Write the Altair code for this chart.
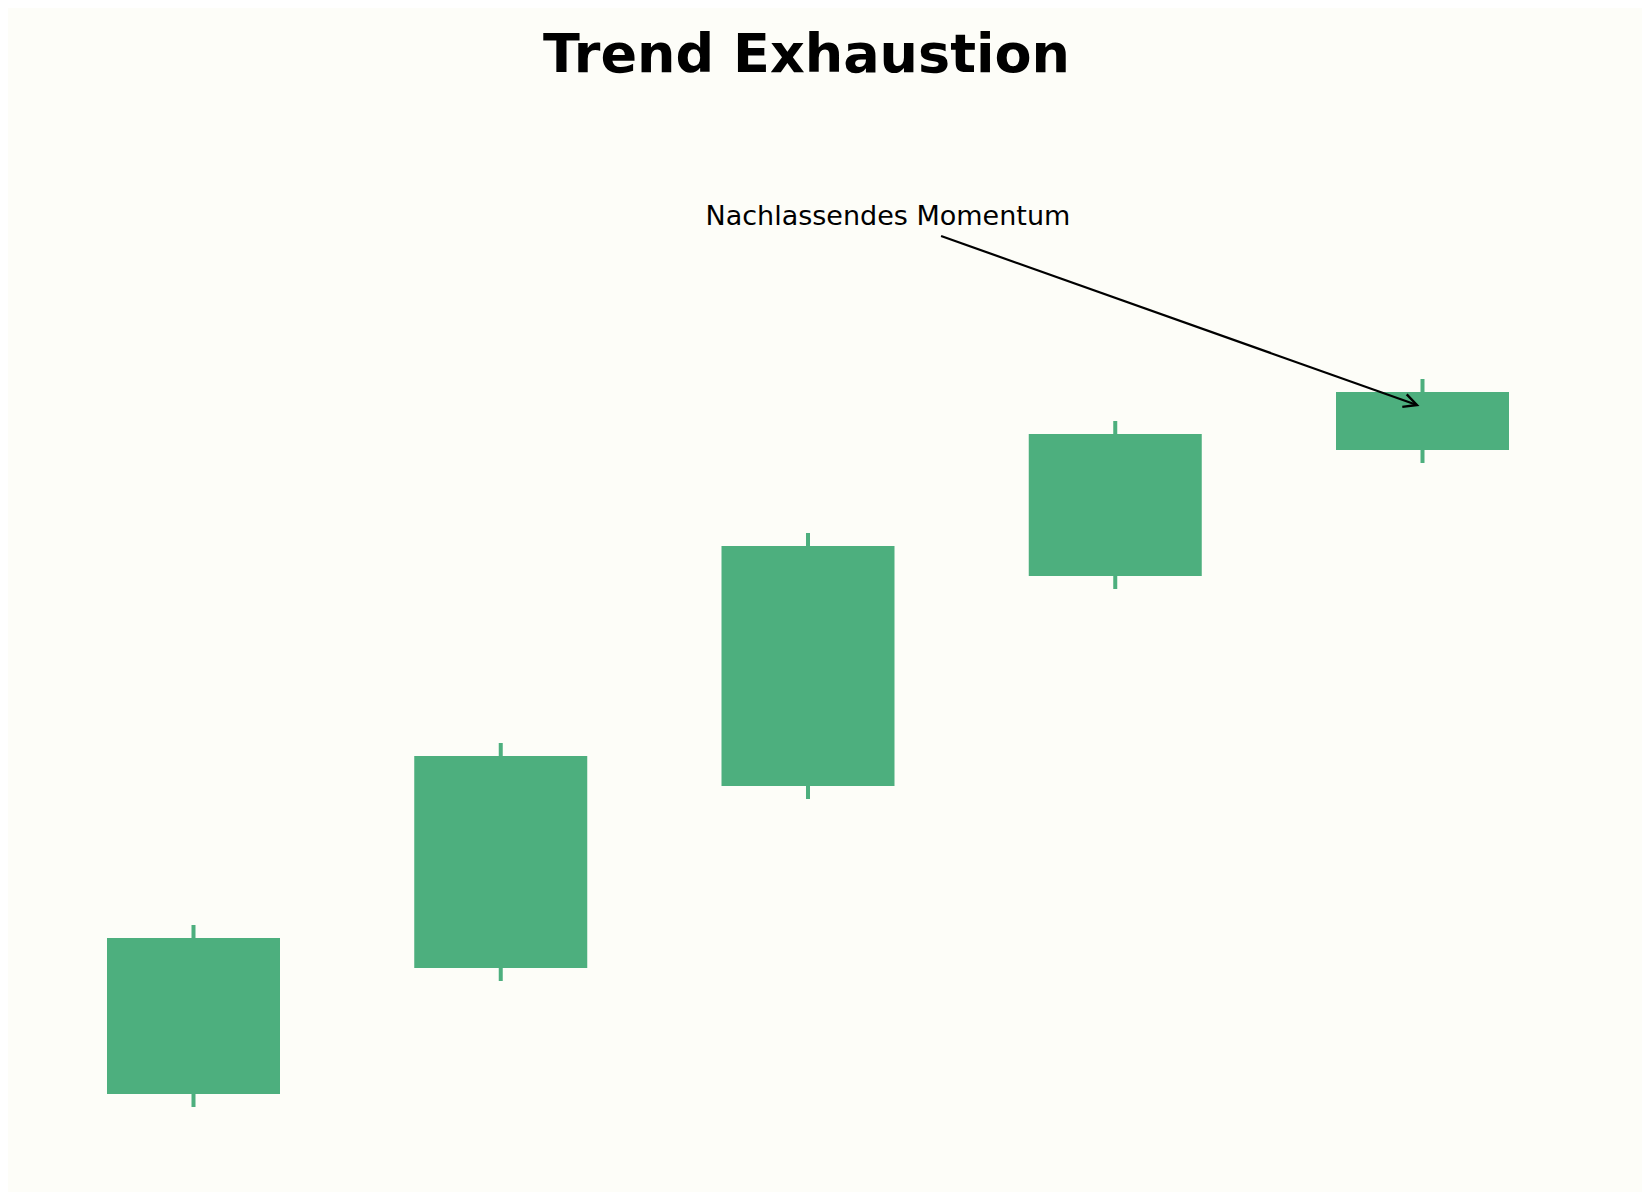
import altair as alt
import pandas as pd

# ---- data ----
idx = [0, 1, 2, 3, 4]
opens = [100.0, 104.85, 111.85, 119.92, 124.77]
closes = [106.0, 113.0, 121.08, 125.38, 127.0]
highs = [106.5, 113.5, 121.58, 125.88, 127.5]
lows = [99.5, 104.35, 111.35, 119.42, 124.27]

title_text = "Trend Exhaustion"
note_text = ["Nachlassendes Momentum"]
note_x = [2.26]
note_y = [133.42]
arrow_x = [2.433]
arrow_y = [133.0]
arrow_x2 = [3.982]
arrow_y2 = [126.5]

GREEN = "#4daf7e"
BG = "#fdfdf8"

df = pd.DataFrame({"i": idx, "open": opens, "close": closes, "high": highs, "low": lows})
note_df = pd.DataFrame({"x": note_x, "y": note_y, "t": note_text})
arrow_df = pd.DataFrame({"x": arrow_x, "y": arrow_y, "x2": arrow_x2, "y2": arrow_y2})

xs = alt.Scale(domain=[-0.60374, 4.7144], nice=False, zero=False, padding=0)
ys = alt.Scale(domain=[96.231, 137.923], nice=False, zero=False, padding=0)

wicks = alt.Chart(df).mark_rule(color=GREEN, strokeWidth=4, strokeCap="butt").encode(
    x=alt.X("i:Q", scale=xs, axis=None),
    y=alt.Y("low:Q", scale=ys, axis=None),
    y2="high:Q",
)
bodies = alt.Chart(df).mark_bar(color=GREEN, size=173, opacity=1).encode(
    x=alt.X("i:Q", scale=xs, axis=None),
    y=alt.Y("open:Q", scale=ys, axis=None),
    y2="close:Q",
)
note = alt.Chart(note_df).mark_text(
    font="DejaVu Sans", fontSize=27, color="#000000", align="center", baseline="alphabetic"
).encode(
    x=alt.X("x:Q", scale=xs, axis=None),
    y=alt.Y("y:Q", scale=ys, axis=None),
    text="t:N",
)
arrow_line = alt.Chart(arrow_df).mark_rule(color="#000000", strokeWidth=2.2).encode(
    x=alt.X("x:Q", scale=xs, axis=None),
    y=alt.Y("y:Q", scale=ys, axis=None),
    x2="x2:Q",
    y2="y2:Q",
)
arrow_head = alt.Chart(arrow_df).mark_point(
    shape="M -1 -0.5 L 0 0 L -1 0.5", filled=False, color="#000000",
    strokeWidth=2.4, size=700, angle=19.5, opacity=1,
).encode(
    x=alt.X("x2:Q", scale=xs, axis=None),
    y=alt.Y("y2:Q", scale=ys, axis=None),
)

chart = alt.layer(wicks, bodies, arrow_line, arrow_head, note).properties(
    width=1634,
    height=1084,
    autosize=alt.AutoSizeParams(type="none"),
    padding={"left": 0, "right": 0, "top": 100, "bottom": 0},
    title=alt.TitleParams(
        text=title_text, font="DejaVu Sans", fontSize=54, fontWeight="bold",
        color="#000000", anchor="middle", dx=-18.5, offset=25,
    ),
    background=BG,
).configure_view(stroke=None)

chart.save("out.html", embed_options={"renderer": "svg", "actions": False})
